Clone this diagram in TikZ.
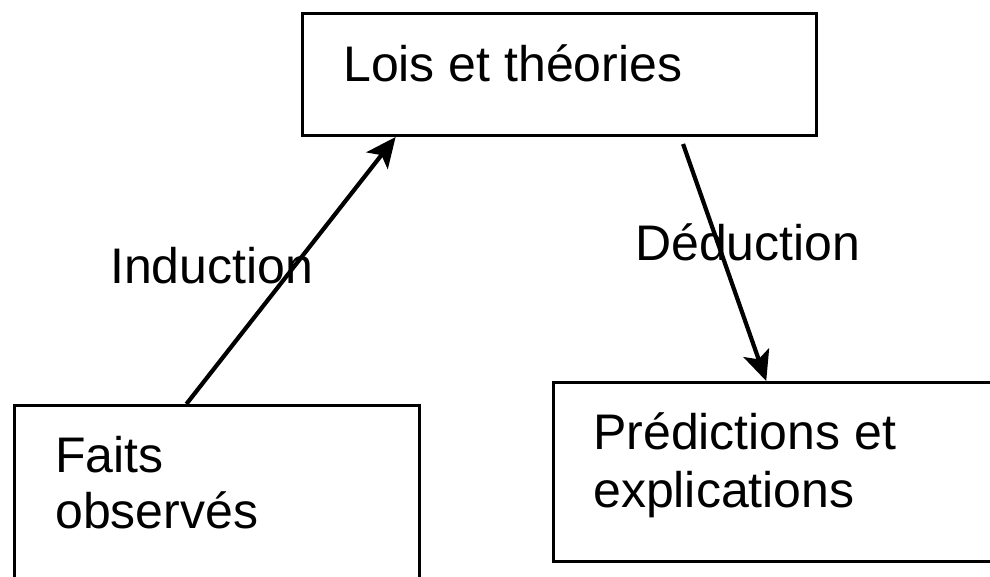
\documentclass[tikz,border=0pt]{standalone}
\usepackage{fontspec}
\setmainfont{Liberation Sans}
\usetikzlibrary{arrows.meta,calc}
\begin{document}
\begin{tikzpicture}[x=1pt,y=1pt,
  box/.style={draw,line width=3pt,rectangle,inner sep=0pt,anchor=north west},
  txt/.style={anchor=base west,inner sep=0pt,font=\fontsize{50}{56}\selectfont},
  conn/.style={line width=4.2pt,-{Stealth[length=30pt,width=27pt,inset=7pt]}}]
\useasboundingbox (0,0) rectangle (990,-576);
\fill[white] (0,0) rectangle (990,-576);
\clip (0,0) rectangle (990,-576);
% boxes
\node[box,minimum width=514pt,minimum height=122pt] (lois) at (301,-12) {};
\node[box,minimum width=405pt,minimum height=200pt] (faits) at (13,-404) {};
\node[box,minimum width=448pt,minimum height=179pt] (pred) at (552,-381) {};
% texts
\node[txt] (loist) at (343,-81) {Lois et théories};
\node[txt] (faitsa) at (55,-472) {Faits};
\node[txt] (faitsb) at (55,-528) {observés};
\node[txt] (preda) at (593,-449) {Prédictions et};
\node[txt] (predb) at (593,-507) {explications};
\node[txt] (ind) at (110,-283) {Induction};
\node[txt] (ded) at (635,-260) {Déduction};
% connectors
\draw[conn] ($(faits.north west)!0.425!(faits.north east)$) -- ($(lois.south west)!0.183!(lois.south east)$);
\draw[conn] ($(lois.south west)!0.739!(lois.south east)+(0,-7)$) -- ($(pred.north west)!0.475!(pred.north east)$);
\end{tikzpicture}
\end{document}
